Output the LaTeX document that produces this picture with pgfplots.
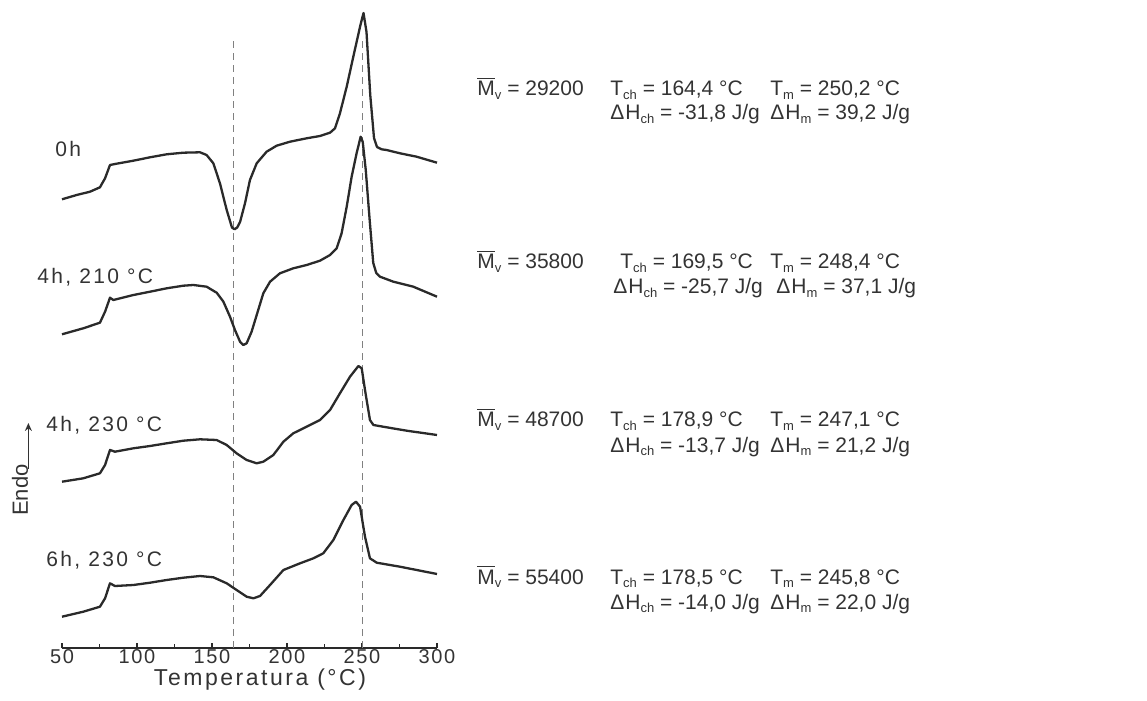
\documentclass[border=0pt]{standalone}
\usepackage{fontspec}
\setmainfont{Liberation Sans}
\usepackage{pgfplots}
\pgfplotsset{compat=1.18}
\usetikzlibrary{arrows.meta}
\newfontfamily\spacedA[LetterSpace=8]{Liberation Sans}
\newfontfamily\spacedB[LetterSpace=11]{Liberation Sans}
\newcommand{\sub}[1]{\raisebox{-0.3ex}{\fontsize{6.5}{7}\selectfont #1}}
\newcommand{\Mv}{$\overline{\hbox{M}}$\sub{v}}
\newcommand{\rt}{\fontsize{10.5}{12}\selectfont}
\definecolor{curve}{HTML}{2A2A2A}
\definecolor{txt}{HTML}{333333}
\begin{document}
\begin{tikzpicture}
\begin{axis}[
 scale only axis, width=187.5pt, height=324pt,
 xmin=50, xmax=300, ymin=52, ymax=700,
 axis x line=bottom, axis y line=none,
 axis line style={-, curve, line width=0.75pt},
 xtick={50,100,...,300}, minor xtick={75,125,...,275},
 tick align=inside, major tick length=2.5pt, minor tick length=2.2pt,
 tick style={curve, line width=0.6pt},
 xticklabel style={font=\spacedA\fontsize{10}{10}\selectfont, text=txt, inner sep=0pt, yshift=-0.5pt},
 /pgf/number format/assume math mode=true,
 clip=false,
]
% reference lines
\addplot[gray, line width=0.7pt, dash pattern=on 3.5pt off 2.5pt] coordinates {(164.4,52) (164.4,663)};
\addplot[gray, line width=0.7pt, dash pattern=on 3.5pt off 2.5pt] coordinates {(250.2,52) (250.2,663)};
% 0h
\addplot[curve, line width=1.15pt, line join=round] coordinates {
(50,500.7) (59.8,505) (68.7,508.3) (75.3,512.7) (78.7,521.7) (82,535) (85.3,536) (97.6,539.3) (108.7,542.7) (119.8,545.7) (130.9,547.3) (142,547.7) (146.4,545) (150.9,536.7) (155.3,516.7) (159.8,490) (163.3,472.5) (165,470.7) (166.8,472.5) (168.7,478) (172,496.7) (175.3,520) (179.8,536.7) (186.4,548.3) (193.1,554.3) (202,558.3) (213.1,561.7) (222,564) (228.7,567.3) (232,571.7) (235.3,586.7) (239.8,613.3) (244.2,643.3) (248.7,673.3) (251,687) (253,668) (255.5,605) (258,562) (260,553) (263,550.7) (266.4,550) (275.3,546.7) (286.4,543.3) (300,537.3)};
% 4h, 210
\addplot[curve, line width=1.15pt, line join=round] coordinates {
(50,365.7) (64.2,371.7) (75.3,377.3) (78.7,388.3) (82,402.3) (84.2,400) (97.6,405) (108.7,408.3) (119.8,411.7) (130.9,414.3) (137.6,415) (146.4,413.3) (153.1,407.3) (157.6,398.3) (162,383.3) (165.3,370) (168.7,358.3) (170.9,355) (173.1,356.7) (176.4,368.3) (179.8,385) (184.2,406.7) (188.7,418.3) (195.3,426.7) (204.2,431.7) (213.1,435) (222,439.3) (228.7,445) (233.1,451.7) (236.4,466.7) (239.8,493.3) (243.1,523.3) (246.4,546.7) (249.1,563.3) (250.5,558) (252.5,530) (255,482) (257.5,437) (259.5,427) (262,423.3) (270.9,418.3) (284.2,413.3) (300,403.3)};
% 4h, 230
\addplot[curve, line width=1.15pt, line join=round] coordinates {
(50,218.3) (64.2,221.7) (75.3,226.7) (78.7,235) (82,250) (85.3,248.3) (97.6,251.7) (108.7,254) (119.8,256.7) (130.9,259.3) (142,260.7) (153.1,260) (159.8,255) (166.4,246.7) (173.1,240) (179.8,236.7) (184.2,238.3) (190.9,245) (197.6,258.3) (204.2,266.7) (213.1,273.3) (222,280) (228.7,290) (235.3,306.7) (242,323.3) (247.6,334) (249.8,331.7) (252,310) (255.3,280) (257.6,275) (266.4,272.7) (279.8,269.3) (300,265)};
% 6h, 230
\addplot[curve, line width=1.15pt, line join=round] coordinates {
(50,83.3) (64.2,88.3) (75.3,93.3) (78.7,101.7) (82,116.7) (85.3,114) (97.6,115) (108.7,117.3) (119.8,120) (130.9,122.3) (142,124) (150.9,122.7) (159.8,116.7) (166.4,110) (173.1,103.3) (177.6,101.7) (182,104) (188.7,115) (197.6,130) (208.7,136.7) (217.6,141.7) (224.2,146.7) (230.9,160) (237.6,180) (243.1,195) (246,198.3) (248.7,193.3) (252,163.3) (255.3,141.7) (259.8,137.3) (275.3,133.3) (300,126)};
% curve labels
\node[anchor=west, font=\spacedB\fontsize{10.5}{11}\selectfont, text=txt, inner sep=0pt] at (axis cs:45.3,551) {0h};
\node[anchor=west, font=\spacedB\fontsize{10.5}{11}\selectfont, text=txt, inner sep=0pt] at (axis cs:33.3,423) {4h, 210 \textdegree C};
\node[anchor=west, font=\spacedB\fontsize{10.5}{11}\selectfont, text=txt, inner sep=0pt] at (axis cs:39.3,275) {4h, 230 \textdegree C};
\node[anchor=west, font=\spacedB\fontsize{10.5}{11}\selectfont, text=txt, inner sep=0pt] at (axis cs:39.3,140) {6h, 230 \textdegree C};
% Endo
\node[rotate=90, font=\fontsize{11}{12}\selectfont, text=txt, inner sep=0pt] at (axis cs:22,210) {Endo};
\draw[-{Stealth[length=4pt,width=3.5pt]}, line width=0.7pt, txt] (axis cs:27.6,231) -- (axis cs:27.6,277);
% x label
\node[font=\spacedB\fontsize{11.5}{12}\selectfont, text=txt, inner sep=0pt] at (axis cs:182,20) {Temperatura (\textdegree C)};
% right side texts
\node[anchor=base west, font=\rt, text=txt, inner sep=0pt] at (axis cs:326.7,604) {\Mv{} = 29200};
\node[anchor=base west, font=\rt, text=txt, inner sep=0pt] at (axis cs:415.3,604) {T\sub{ch} = 164,4 \textdegree C};
\node[anchor=base west, font=\rt, text=txt, inner sep=0pt] at (axis cs:415.3,580) {Δ\kern0.5pt H\sub{ch} = -31,8 J/g};
\node[anchor=base west, font=\rt, text=txt, inner sep=0pt] at (axis cs:522,604) {T\sub{m} = 250,2 \textdegree C};
\node[anchor=base west, font=\rt, text=txt, inner sep=0pt] at (axis cs:522,580) {Δ\kern0.5pt H\sub{m} = 39,2 J/g};

\node[anchor=base west, font=\rt, text=txt, inner sep=0pt] at (axis cs:326.7,431) {\Mv{} = 35800};
\node[anchor=base west, font=\rt, text=txt, inner sep=0pt] at (axis cs:422,431) {T\sub{ch} = 169,5 \textdegree C};
\node[anchor=base west, font=\rt, text=txt, inner sep=0pt] at (axis cs:417.3,406) {Δ\kern0.5pt H\sub{ch} = -25,7 J/g};
\node[anchor=base west, font=\rt, text=txt, inner sep=0pt] at (axis cs:522,431) {T\sub{m} = 248,4 \textdegree C};
\node[anchor=base west, font=\rt, text=txt, inner sep=0pt] at (axis cs:526,406) {Δ\kern0.5pt H\sub{m} = 37,1 J/g};

\node[anchor=base west, font=\rt, text=txt, inner sep=0pt] at (axis cs:326.7,273) {\Mv{} = 48700};
\node[anchor=base west, font=\rt, text=txt, inner sep=0pt] at (axis cs:415.3,273) {T\sub{ch} = 178,9 \textdegree C};
\node[anchor=base west, font=\rt, text=txt, inner sep=0pt] at (axis cs:415.3,248) {Δ\kern0.5pt H\sub{ch} = -13,7 J/g};
\node[anchor=base west, font=\rt, text=txt, inner sep=0pt] at (axis cs:522,273) {T\sub{m} = 247,1 \textdegree C};
\node[anchor=base west, font=\rt, text=txt, inner sep=0pt] at (axis cs:522,248) {Δ\kern0.5pt H\sub{m} = 21,2 J/g};

\node[anchor=base west, font=\rt, text=txt, inner sep=0pt] at (axis cs:326.7,116) {\Mv{} = 55400};
\node[anchor=base west, font=\rt, text=txt, inner sep=0pt] at (axis cs:415.3,116) {T\sub{ch} = 178,5 \textdegree C};
\node[anchor=base west, font=\rt, text=txt, inner sep=0pt] at (axis cs:415.3,91) {Δ\kern0.5pt H\sub{ch} = -14,0 J/g};
\node[anchor=base west, font=\rt, text=txt, inner sep=0pt] at (axis cs:522,116) {T\sub{m} = 245,8 \textdegree C};
\node[anchor=base west, font=\rt, text=txt, inner sep=0pt] at (axis cs:522,91) {Δ\kern0.5pt H\sub{m} = 22,0 J/g};

\coordinate (BL) at (axis cs:8.667,0);
\coordinate (TR) at (axis cs:773.33,700);
\end{axis}
\pgfresetboundingbox
\useasboundingbox (BL) rectangle (TR);
\end{tikzpicture}
\end{document}
